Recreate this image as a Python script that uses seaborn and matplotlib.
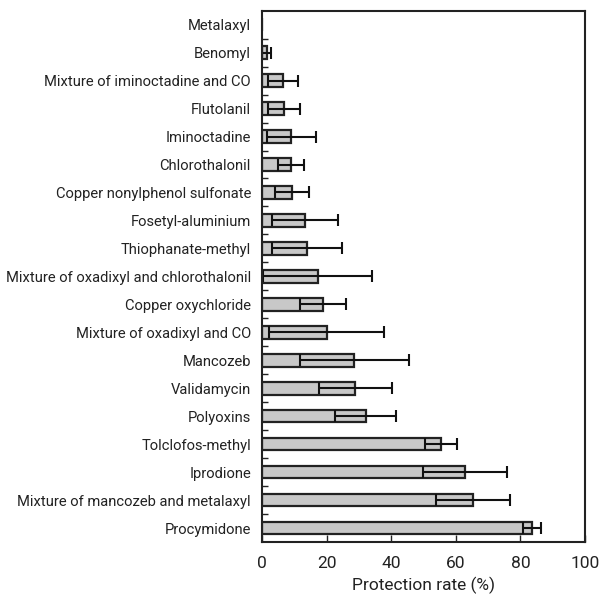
import matplotlib
matplotlib.use("Agg")
import matplotlib.pyplot as plt
import seaborn as sns
import pandas as pd
import numpy as np
from matplotlib.ticker import FixedLocator

fungicides = [
    "Metalaxyl", "Benomyl", "Mixture of iminoctadine and CO", "Flutolanil",
    "Iminoctadine", "Chlorothalonil", "Copper nonylphenol sulfonate",
    "Fosetyl-aluminium", "Thiophanate-methyl",
    "Mixture of oxadixyl and chlorothalonil", "Copper oxychloride",
    "Mixture of oxadixyl and CO", "Mancozeb", "Validamycin", "Polyoxins",
    "Tolclofos-methyl", "Iprodione", "Mixture of mancozeb and metalaxyl",
    "Procymidone",
]
protection = [0.0, 1.4, 6.5, 6.8, 9.0, 9.0, 9.3, 13.2, 13.9, 17.2, 18.9,
              20.0, 28.6, 28.9, 32.1, 55.5, 62.7, 65.3, 83.7]
err = [0.0, 1.4, 4.6, 5.0, 7.6, 4.1, 5.4, 10.2, 10.9, 17.0, 7.2,
       17.9, 16.8, 11.4, 9.5, 5.0, 13.0, 11.5, 2.8]

df = pd.DataFrame({"fungicide": fungicides, "rate": protection, "err": err})

sns.set_theme(style="white")
plt.rcParams["font.family"] = ["Roboto", "DejaVu Sans"]

fig = plt.figure(figsize=(6.0, 5.98), dpi=100)
ax = fig.add_axes([0.4367, 0.0936, 0.5383, 0.8885])

sns.barplot(data=df, y="fungicide", x="rate", orient="h", ax=ax,
            color="#c8c8c8", edgecolor="#222222", linewidth=1.6,
            width=0.45, errorbar=None, saturation=1)
pos = np.arange(len(fungicides))
ax.errorbar(df["rate"].where(df["err"] > 0), pos, xerr=df["err"], fmt="none",
            ecolor="#111111", elinewidth=1.5, capsize=4, capthick=1.5)

ax.set_xlim(0, 100)
ax.set_ylim(len(fungicides) - 0.5, -0.5)
ax.set_xticks([0, 20, 40, 60, 80, 100])
ax.set_xticklabels(["0", "20", "40", "60", "80", "100"], fontsize=12.5)
ax.set_xlabel("Protection rate (%)", fontsize=12.5, color="#222222", labelpad=4)
ax.set_ylabel("")
ax.tick_params(axis="x", direction="in", length=5, width=1, colors="#222222",
               bottom=True, pad=10)
ax.tick_params(axis="y", which="major", length=0, pad=8, labelsize=10.6,
               colors="#222222")
ax.yaxis.set_minor_locator(FixedLocator(np.arange(0.5, len(fungicides) - 1, 1)))
ax.tick_params(axis="y", which="minor", direction="in", length=4, width=1,
               left=True, color="#222222")
for s in ax.spines.values():
    s.set_visible(True)
    s.set_color("#222222")
    s.set_linewidth(1.5)

fig.savefig("out.png", dpi=100)
